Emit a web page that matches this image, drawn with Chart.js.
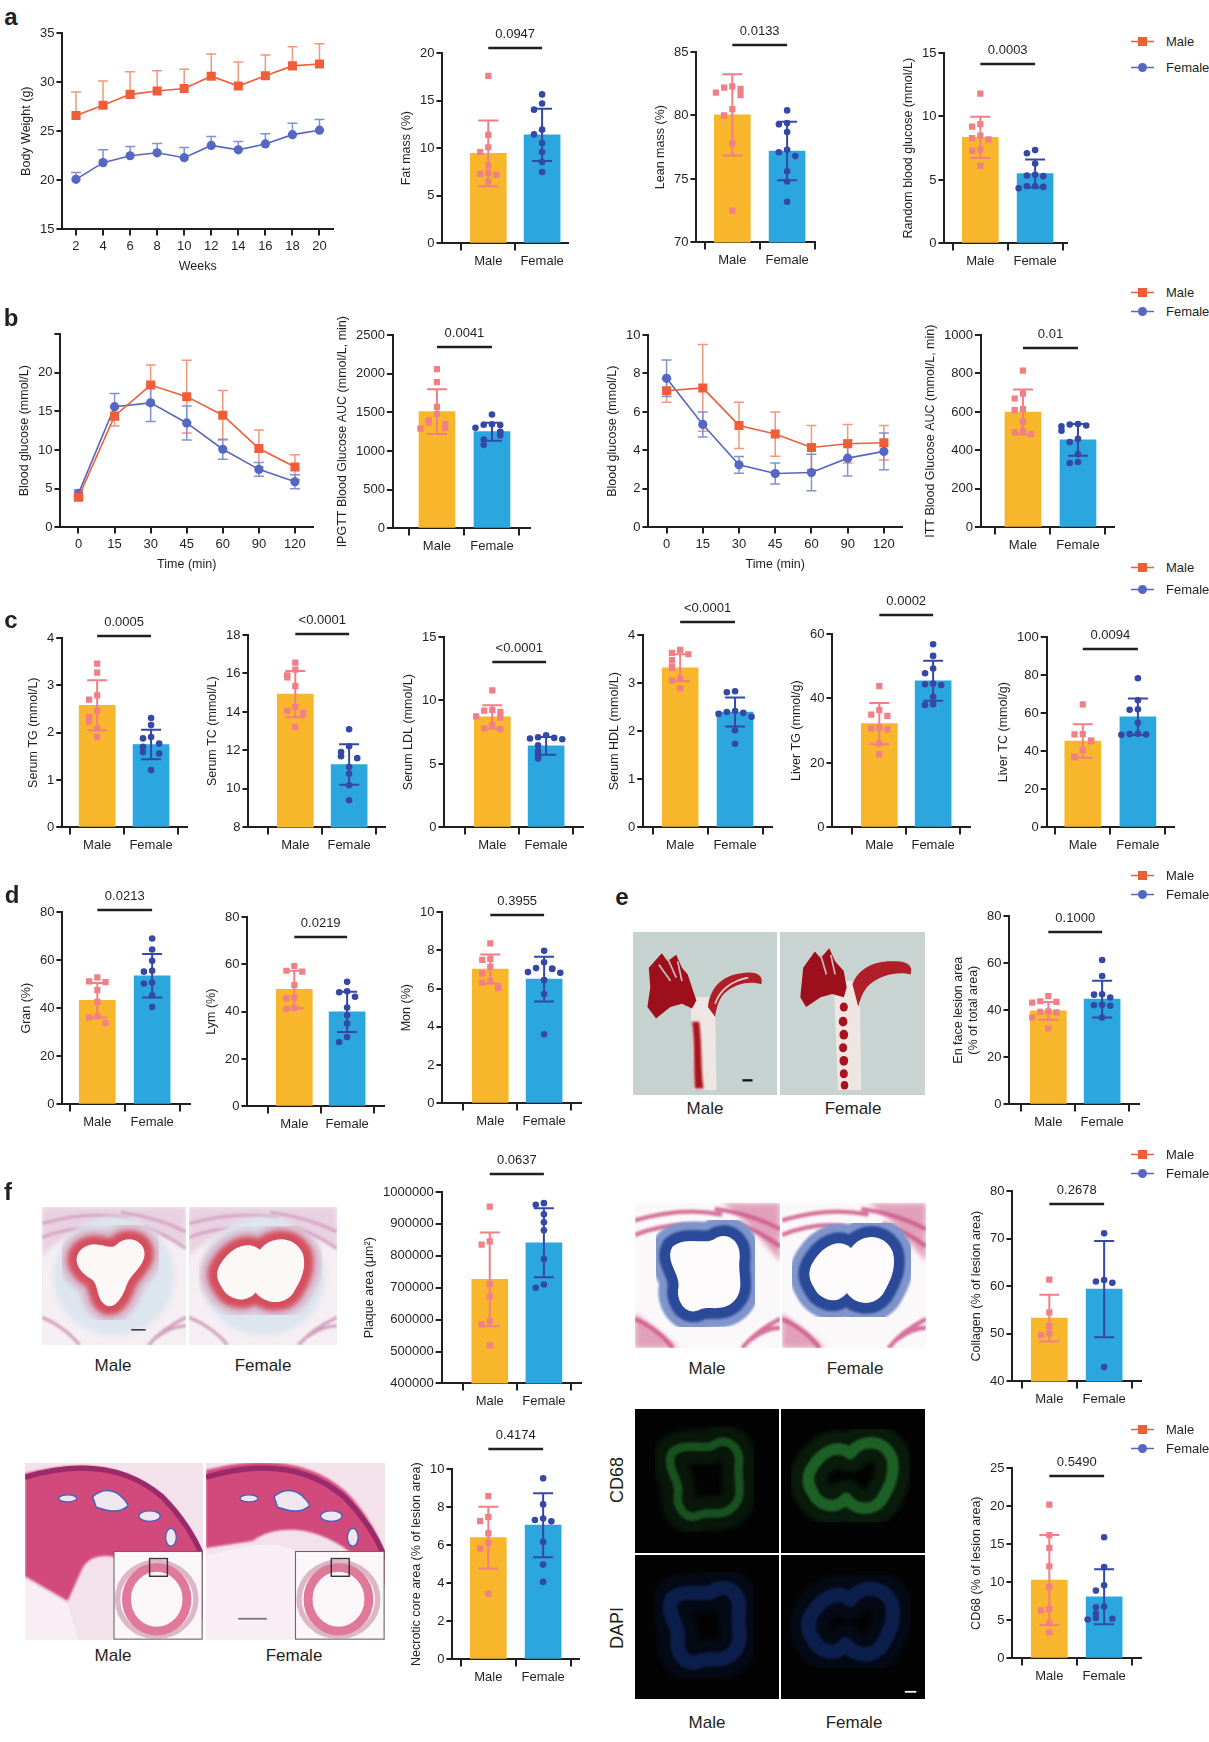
<!DOCTYPE html>
<html>
<head>
<meta charset="utf-8">
<script src="https://cdn.jsdelivr.net/npm/chart.js@4.4.1/dist/chart.umd.min.js"></script>
<style>
  body { margin: 0; background: #fff; width: 1209px; height: 1742px; position: relative; overflow: hidden;
         font-family: "Liberation Sans", Arial, sans-serif; color: #231f20; }
  .box { position: absolute; }
  .lbl { position: absolute; transform: translate(-50%, -50%); white-space: nowrap; font-size: 17px; }
  .letter { position: absolute; transform: translate(-50%, -50%); font-weight: bold; font-size: 24px; }
  .rot { position: absolute; transform: translate(-50%, -50%) rotate(-90deg); font-size: 18px; }
  .leg { position: absolute; left: 1131px; height: 14px; font-size: 13px; display: flex; align-items: center; transform: translateY(-50%); }
  .leg svg { margin-right: 12px; }
</style>
</head>
<body>
<svg width="0" height="0" style="position:absolute">
  <defs>
    <filter id="b1" x="-20%" y="-20%" width="140%" height="140%"><feGaussianBlur stdDeviation="0.7"/></filter>
    <filter id="b2" x="-20%" y="-20%" width="140%" height="140%"><feGaussianBlur stdDeviation="1.8"/></filter>
    <filter id="b3" x="-30%" y="-30%" width="160%" height="160%"><feGaussianBlur stdDeviation="3.5"/></filter>
  </defs>
</svg>
<script>
// ---------- data ----------
const sexes = ['Male', 'Female'];

const weeks = [2, 4, 6, 8, 10, 12, 14, 16, 18, 20];
const bwMale = [26.6, 27.65, 28.75, 29.1, 29.35, 30.6, 29.6, 30.65, 31.65, 31.85];
const bwMaleSd = [2.4, 2.45, 2.3, 2.05, 1.95, 2.25, 2.45, 2.1, 1.95, 2.05];
const bwFemale = [20.1, 21.8, 22.5, 22.8, 22.3, 23.55, 23.1, 23.7, 24.65, 25.1];
const bwFemaleSd = [0.7, 1.3, 0.95, 0.95, 1.05, 0.9, 0.85, 1.05, 1.15, 1.1];

const fatMean = [9.45, 11.4], fatSd = [3.45, 2.75];
const fatMale = [17.6, 11.4, 10.1, 9.6, 8.2, 7.4, 7.3, 7.2, 6.5];
const fatFemale = [15.65, 14.7, 14.05, 11.95, 11.45, 10.55, 9.6, 8.55, 7.5];
const leanMean = [80.05, 77.2], leanSd = [3.2, 2.3];
const leanMale = [82.3, 82.2, 82.1, 81.8, 81.6, 80.5, 80.0, 77.8, 72.5];
const leanFemale = [80.4, 79.4, 79.3, 78.7, 77.3, 77.1, 76.8, 75.6, 74.8, 73.2];
const rbgMean = [8.35, 5.5], rbgSd = [1.62, 1.1];
const rbgMale = [11.8, 9.4, 9.2, 8.5, 8.3, 8.2, 7.4, 7.3, 6.1];
const rbgFemale = [7.35, 7.1, 6.3, 5.4, 5.35, 5.3, 4.5, 4.5, 4.45, 4.35];

const times = [0, 15, 30, 45, 60, 90, 120];
const gttMale = [3.9, 14.4, 18.4, 16.9, 14.5, 10.2, 7.8];
const gttMaleSd = [0.3, 1.3, 2.6, 4.7, 3.2, 2.4, 1.6];
const gttFemale = [4.4, 15.6, 16.1, 13.5, 10.1, 7.5, 5.9];
const gttFemaleSd = [0.45, 1.7, 2.4, 2.2, 1.3, 0.9, 0.9];
const ipgttMean = [1510, 1250], ipgttSd = [290, 116];
const ipgttMale = [2060, 1890, 1570, 1480, 1400, 1370, 1350, 1300, 1290];
const ipgttFemale = [1473, 1345, 1340, 1335, 1300, 1250, 1245, 1200, 1150, 1080];

const ittMale = [7.1, 7.25, 5.3, 4.85, 4.15, 4.35, 4.4];
const ittMaleSd = [0.6, 2.25, 1.2, 1.15, 1.15, 1.0, 0.9];
const ittFemale = [7.75, 5.35, 3.25, 2.8, 2.85, 3.6, 3.95];
const ittFemaleSd = [0.95, 0.65, 0.43, 0.55, 0.95, 0.93, 0.95];
const ittAucMean = [600, 455], ittAucSd = [117, 83];
const ittAucMale = [815, 695, 670, 615, 610, 550, 500, 495, 485];
const ittAucFemale = [537, 535, 530, 525, 502, 460, 444, 380, 340, 335];

const tgMean = [2.58, 1.75], tgSd = [0.53, 0.31];
const tgMale = [3.46, 3.27, 2.79, 2.70, 2.46, 2.33, 2.24, 2.09, 1.91];
const tgFemale = [2.31, 2.16, 1.91, 1.88, 1.77, 1.70, 1.59, 1.56, 1.21];
const tcMean = [14.93, 11.27], tcSd = [1.2, 1.05];
const tcMale = [16.56, 16.2, 15.9, 15.8, 15.34, 14.27, 14.05, 13.95, 13.22];
const tcFemale = [13.1, 12.22, 11.92, 11.7, 11.6, 11.14, 10.79, 10.19, 9.41];
const ldlMean = [8.71, 6.42], ldlSd = [0.92, 0.7];
const ldlMale = [10.8, 9.25, 9.2, 9.1, 8.75, 8.65, 8.05, 7.8, 7.75];
const ldlFemale = [7.26, 7.1, 7.05, 7.0, 6.95, 6.47, 6.02, 5.68, 5.42];
const hdlMean = [3.32, 2.4], hdlSd = [0.28, 0.3];
const hdlMale = [3.69, 3.63, 3.6, 3.48, 3.35, 3.31, 3.1, 3.05, 2.89];
const hdlFemale = [2.83, 2.81, 2.42, 2.4, 2.38, 2.36, 2.3, 2.02, 1.74];
const ltgMean = [32.2, 45.5], ltgSd = [6.4, 6.2];
const ltgMale = [43.8, 36.4, 35.0, 34.6, 31.0, 30.7, 30.4, 26.0, 22.7];
const ltgFemale = [56.8, 53.2, 49.3, 47.8, 44.6, 44.4, 44.2, 40.5, 38.2, 38.0];
const ltcMean = [45.4, 58.1], ltcSd = [8.8, 9.6];
const ltcMale = [64.6, 49, 48.8, 45.6, 45.4, 45.2, 40.5, 37.2, 36.8];
const ltcFemale = [78.3, 66.8, 62, 61.8, 54.9, 49.2, 49, 48.8, 48.6];

const granMean = [43.3, 53.5], granSd = [7.2, 9];
const granMale = [52.8, 51.2, 50.8, 47.5, 42.6, 36.6, 36.2, 33.9];
const granFemale = [69, 64.4, 59.7, 55.6, 55.2, 50.7, 50.3, 45.4, 40.5];
const lymMean = [49.4, 39.9], lymSd = [7.9, 8.5];
const lymMale = [59.3, 57.3, 56.9, 51.2, 46, 45.6, 41.6, 41.2];
const lymFemale = [52.6, 48.6, 48.2, 46.3, 41.8, 38.5, 35, 29.3, 27.2];
const monMean = [7.02, 6.49], monSd = [0.76, 1.17];
const monMale = [8.36, 7.55, 7.5, 7.14, 6.79, 6.4, 6.3, 6.06, 6.02];
const monFemale = [7.97, 7.37, 7.07, 7.05, 7.02, 6.86, 6.82, 6.44, 5.71, 3.61];
const enMean = [39.7, 44.7], enSd = [3.8, 7.8];
const enMale = [46, 43.8, 43.5, 43.2, 39.5, 39.3, 39.1, 36.9, 32.2];
const enFemale = [61.3, 54.5, 46.8, 46.6, 45.4, 42.3, 42.1, 41.9, 36.9];

const plaqueMean = [726000, 841000], plaqueSd = [147000, 108000];
const plaqueMale = [954000, 845000, 835000, 711000, 673000, 596000, 585000, 519000];
const plaqueFemale = [965000, 960000, 930000, 905000, 880000, 790000, 710000, 700000];
const colMean = [53.3, 59.4], colSd = [4.9, 10.1];
const colMale = [61.4, 54.5, 51.6, 50.1, 49.7];
const colFemale = [71.1, 61.3, 61.0, 60.7, 43.0];
const necMean = [6.4, 7.05], necSd = [1.62, 1.68];
const necMale = [8.58, 7.49, 7.26, 6.62, 6.12, 5.82, 3.46];
const necFemale = [9.51, 8.14, 7.4, 7.32, 7.25, 6.17, 4.98, 4.07];
const cd68Mean = [10.3, 8.1], cd68Sd = [5.9, 3.6];
const cd68Male = [20.2, 16.2, 14.5, 12.1, 9.4, 6.5, 6.3, 4.6, 3.4];
const cd68Female = [15.9, 12.0, 9.6, 8.9, 6.8, 6.7, 5.9, 5.3, 5.2, 5.1];

// ---------- look ----------
const C = {
  maleBar: '#F8B62D', femaleBar: '#2BA6DE',
  maleDot: '#F07F86', femaleDot: '#3548A6',
  maleLine: '#EF5E39', femaleLine: '#5567C3',
  maleLineErr: '#F4977A', femaleLineErr: '#8391D6',
  ink: '#231f20'
};
Chart.defaults.font.family = '"Liberation Sans", Arial, sans-serif';
Chart.defaults.color = C.ink;

// page positions of each plot (axis x, top/bottom of y axis, bar centres, axis end, p-line y)
const LAY = {
  bw:     {ax: 62,  top: 33,   bot: 229,  end: 333},
  gtt:    {ax: 60,  top: 334,  bot: 527,  end: 313},
  itt:    {ax: 648, top: 335,  bot: 527,  end: 902},
  fat:    {ax: 442, top: 53,   bot: 243,  m: 488,  f: 542,  end: 568,  pY: 48},
  lean:   {ax: 696, top: 52,   bot: 242,  m: 732,  f: 787,  end: 815,  pY: 45},
  rbg:    {ax: 944, top: 53,   bot: 243,  m: 980,  f: 1035, end: 1067, pY: 64},
  ipgtt:  {ax: 393, top: 335,  bot: 528,  m: 437,  f: 492,  end: 530,  pY: 347},
  ittAuc: {ax: 981, top: 335,  bot: 527,  m: 1023, f: 1078, end: 1114, pY: 348},
  tg:     {ax: 62,  top: 638,  bot: 827,  m: 97,   f: 151,  end: 187,  pY: 636},
  tc:     {ax: 248, top: 635,  bot: 827,  m: 295,  f: 349,  end: 385,  pY: 634},
  ldl:    {ax: 444, top: 637,  bot: 827,  m: 492,  f: 546,  end: 583,  pY: 662},
  hdl:    {ax: 643, top: 635,  bot: 827,  m: 680,  f: 735,  end: 772,  pY: 622},
  ltg:    {ax: 832, top: 634,  bot: 827,  m: 879,  f: 933,  end: 970,  pY: 615},
  ltc:    {ax: 1047, top: 637, bot: 827,  m: 1083, f: 1138, end: 1174, pY: 649},
  gran:   {ax: 62,  top: 912,  bot: 1104, m: 97,   f: 152,  end: 190,  pY: 910},
  lym:    {ax: 247, top: 917,  bot: 1106, m: 294,  f: 347,  end: 384,  pY: 937},
  mon:    {ax: 442, top: 912,  bot: 1103, m: 490,  f: 544,  end: 581,  pY: 915},
  en:     {ax: 1009, top: 916, bot: 1104, m: 1048, f: 1102, end: 1139, pY: 932},
  plaque: {ax: 442, top: 1192, bot: 1383, m: 490,  f: 544,  end: 581,  pY: 1174},
  col:    {ax: 1012, top: 1191, bot: 1381, m: 1049, f: 1104, end: 1141, pY: 1204},
  nec:    {ax: 452, top: 1469, bot: 1659, m: 488,  f: 543,  end: 579,  pY: 1449},
  cd68:   {ax: 1012, top: 1468, bot: 1658, m: 1049, f: 1104, end: 1141, pY: 1476}
};

// ---------- plugins ----------
const barExtras = {
  id: 'barExtras',
  afterDatasetDraw(chart, args, o) {
    if (chart.data.datasets[args.index].type !== 'bar') return;
    const {ctx, scales: {x, y}} = chart;
    ctx.save();
    ctx.lineWidth = 2;
    for (let i = 0; i < 2; i++) {
      const px = x.getPixelForValue(i);
      const hi = y.getPixelForValue(o.mean[i] + o.sd[i]);
      const lo = y.getPixelForValue(Math.max(o.mean[i] - o.sd[i], y.min));
      ctx.strokeStyle = i ? C.femaleDot : C.maleDot;
      ctx.beginPath();
      ctx.moveTo(px, lo); ctx.lineTo(px, hi);
      ctx.moveTo(px - 10, hi); ctx.lineTo(px + 10, hi);
      ctx.moveTo(px - 10, lo); ctx.lineTo(px + 10, lo);
      ctx.stroke();
    }
    ctx.restore();
  },
  afterDraw(chart, args, o) {
    const {ctx, chartArea, scales: {x}} = chart;
    const yy = chartArea.top + o.pOff;
    const x0 = x.getPixelForValue(0), x1 = x.getPixelForValue(1);
    ctx.save();
    ctx.strokeStyle = C.ink;
    ctx.lineWidth = 2.5;
    ctx.beginPath(); ctx.moveTo(x0, yy); ctx.lineTo(x1, yy); ctx.stroke();
    ctx.fillStyle = C.ink;
    ctx.font = '13px "Liberation Sans", Arial, sans-serif';
    ctx.textAlign = 'center';
    ctx.textBaseline = 'middle';
    ctx.fillText(o.p, (x0 + x1) / 2, yy - 14);
    ctx.restore();
  }
};

const lineErr = {
  id: 'lineErr',
  beforeDatasetsDraw(chart, args, o) {
    const {ctx, scales: {y}} = chart;
    ctx.save();
    ctx.lineWidth = 1.5;
    chart.data.datasets.forEach((ds, i) => {
      const meta = chart.getDatasetMeta(i);
      ctx.strokeStyle = i ? C.femaleLineErr : C.maleLineErr;
      meta.data.forEach((pt, j) => {
        const v = ds.data[j], s = o.sd[i][j];
        const hi = y.getPixelForValue(v + s);
        const lo = o.both ? y.getPixelForValue(v - s) : pt.y;
        ctx.beginPath();
        ctx.moveTo(pt.x, lo); ctx.lineTo(pt.x, hi);
        ctx.moveTo(pt.x - 5, hi); ctx.lineTo(pt.x + 5, hi);
        if (o.both) { ctx.moveTo(pt.x - 5, lo); ctx.lineTo(pt.x + 5, lo); }
        ctx.stroke();
      });
    });
    ctx.restore();
  }
};

// spread points sideways where values crowd together
function swarm(vals, range) {
  const order = vals.map((v, i) => i).sort((a, b) => vals[b] - vals[a]);
  const off = vals.map(() => 0);
  const done = [];
  const pat = [0, -1, 1, -2, 2, -3, 3];
  order.forEach(i => {
    const k = done.filter(j => Math.abs(vals[j] - vals[i]) < range * 0.035).length;
    off[i] = pat[k % pat.length] * 0.15;
    done.push(i);
  });
  return off;
}

function axisCommon(tickLen) {
  return {
    z: 1,
    grid: { display: true, drawOnChartArea: false, drawTicks: true, tickLength: tickLen, color: C.ink, lineWidth: 2 },
    border: { display: true, color: C.ink, width: 2 }
  };
}

// build a chart, then shift/resize so its plot area lands on the page position
function place(L, padTop, cfgFn) {
  const wrap = document.createElement('div');
  wrap.className = 'box';
  document.body.appendChild(wrap);
  const make = (w, h) => {
    wrap.innerHTML = '';
    const cv = document.createElement('canvas');
    cv.width = w; cv.height = h;
    cv.style.width = w + 'px'; cv.style.height = h + 'px';
    wrap.appendChild(cv);
    return new Chart(cv, cfgFn(padTop));
  };
  const h0 = padTop + (L.bot - L.top) + 45;
  let ch = make(320, h0);
  const ca = ch.chartArea;
  const w = Math.round(ca.left + (L.end - L.ax) + 8);
  const h = Math.round(h0 + (L.bot - L.top) - (ca.bottom - ca.top));
  ch.destroy();
  ch = make(w, h);
  wrap.style.left = (L.ax - ch.chartArea.left) + 'px';
  wrap.style.top = (L.top - ch.chartArea.top) + 'px';
}

function barPanel(L, D) {
  const sp = L.f - L.m;
  const xmin = -(L.m - L.ax) / sp, xmax = 1 + (L.end - L.f) / sp;
  const rng = D.max - D.min;
  place(L, 46, padTop => {
    const groups = [D.male, D.female].map((arr, g) => {
      const off = swarm(arr, rng);
      return arr.map((v, i) => ({x: g + off[i], y: v}));
    });
    return {
      type: 'bar',
      data: {
        datasets: [
          { type: 'scatter', data: groups[0], order: 1, pointStyle: 'rect', pointRadius: 4.4,
            backgroundColor: C.maleDot, borderWidth: 0 },
          { type: 'scatter', data: groups[1], order: 1, pointStyle: 'circle', pointRadius: 3.3,
            backgroundColor: C.femaleDot, borderWidth: 0 },
          { type: 'bar', data: [{x: 0, y: D.mean[0]}, {x: 1, y: D.mean[1]}], order: 2,
            backgroundColor: [C.maleBar, C.femaleBar], barThickness: 36 }
        ]
      },
      options: {
        responsive: false, maintainAspectRatio: false, animation: false, events: [],
        layout: { padding: { top: padTop, right: 8, left: 0, bottom: 0 } },
        plugins: {
          legend: { display: false }, tooltip: { enabled: false },
          barExtras: { mean: D.mean, sd: D.sd, p: D.p, pOff: L.pY - L.top }
        },
        scales: {
          x: Object.assign(axisCommon(7), {
            type: 'linear', min: xmin, max: xmax, offset: false,
            afterBuildTicks: s => { s.ticks = [{value: 0}, {value: 1}]; },
            ticks: { callback: v => sexes[v], autoSkip: false, maxRotation: 0, font: {size: 13}, padding: 3 }
          }),
          y: Object.assign(axisCommon(6), {
            type: 'linear', min: D.min, max: D.max,
            ticks: { stepSize: D.step, callback: v => String(v), font: {size: 13}, padding: 2 },
            title: { display: true, text: D.title, font: {size: 12.5}, padding: {top: 0, bottom: 4} }
          })
        }
      },
      plugins: [barExtras]
    };
  });
}

function linePanel(L, D) {
  place(L, 14, padTop => ({
    type: 'line',
    data: {
      labels: D.labels,
      datasets: [
        { data: D.male, borderColor: C.maleLine, backgroundColor: C.maleLine, borderWidth: 1.6,
          pointStyle: 'rect', pointRadius: 6.4, pointBorderWidth: 0, tension: 0 },
        { data: D.female, borderColor: C.femaleLine, backgroundColor: C.femaleLine, borderWidth: 1.6,
          pointStyle: 'circle', pointRadius: 4.6, pointBorderWidth: 0, tension: 0 }
      ]
    },
    options: {
      responsive: false, maintainAspectRatio: false, animation: false, events: [],
      layout: { padding: { top: padTop, right: 8, left: 0, bottom: 0 } },
      plugins: {
        legend: { display: false }, tooltip: { enabled: false },
        lineErr: { sd: [D.maleSd, D.femaleSd], both: D.both }
      },
      scales: {
        x: Object.assign(axisCommon(6), {
          type: 'category', offset: true,
          ticks: { font: {size: 13}, padding: 3, autoSkip: false, maxRotation: 0 },
          title: { display: true, text: D.xTitle, font: {size: 12.5}, padding: {top: 2, bottom: 0} }
        }),
        y: Object.assign(axisCommon(6), {
          type: 'linear', min: D.min, max: D.max,
          ticks: { stepSize: D.step, font: {size: 13}, padding: 2,
                   callback: v => (D.hideTop && v === D.max) ? '' : String(v) },
          title: { display: true, text: D.title, font: {size: 12.5}, padding: {top: 0, bottom: 4} }
        })
      }
    },
    plugins: [lineErr]
  }));
}
// tick marks sit on the category labels, not between them
Chart.defaults.scales.category.grid = Object.assign({}, Chart.defaults.scales.category.grid, { offset: false });

// ---------- charts ----------
linePanel(LAY.bw, { labels: weeks, male: bwMale, female: bwFemale, maleSd: bwMaleSd, femaleSd: bwFemaleSd,
  both: false, min: 15, max: 35, step: 5, title: 'Body Weight (g)', xTitle: 'Weeks' });
barPanel(LAY.fat, { min: 0, max: 20, step: 5, title: 'Fat mass (%)', mean: fatMean, sd: fatSd,
  male: fatMale, female: fatFemale, p: '0.0947' });
barPanel(LAY.lean, { min: 70, max: 85, step: 5, title: 'Lean mass (%)', mean: leanMean, sd: leanSd,
  male: leanMale, female: leanFemale, p: '0.0133' });
barPanel(LAY.rbg, { min: 0, max: 15, step: 5, title: 'Random blood glucose (mmol/L)', mean: rbgMean, sd: rbgSd,
  male: rbgMale, female: rbgFemale, p: '0.0003' });

linePanel(LAY.gtt, { labels: times, male: gttMale, female: gttFemale, maleSd: gttMaleSd, femaleSd: gttFemaleSd,
  both: true, min: 0, max: 25, step: 5, hideTop: true, title: 'Blood glucose (mmol/L)', xTitle: 'Time (min)' });
barPanel(LAY.ipgtt, { min: 0, max: 2500, step: 500, title: 'IPGTT Blood Glucose AUC (mmol/L, min)',
  mean: ipgttMean, sd: ipgttSd, male: ipgttMale, female: ipgttFemale, p: '0.0041' });
linePanel(LAY.itt, { labels: times, male: ittMale, female: ittFemale, maleSd: ittMaleSd, femaleSd: ittFemaleSd,
  both: true, min: 0, max: 10, step: 2, title: 'Blood glucose (mmol/L)', xTitle: 'Time (min)' });
barPanel(LAY.ittAuc, { min: 0, max: 1000, step: 200, title: 'ITT Blood Glucose AUC (mmol/L, min)',
  mean: ittAucMean, sd: ittAucSd, male: ittAucMale, female: ittAucFemale, p: '0.01' });

barPanel(LAY.tg, { min: 0, max: 4, step: 1, title: 'Serum TG (mmol/L)', mean: tgMean, sd: tgSd,
  male: tgMale, female: tgFemale, p: '0.0005' });
barPanel(LAY.tc, { min: 8, max: 18, step: 2, title: 'Serum TC (mmol/L)', mean: tcMean, sd: tcSd,
  male: tcMale, female: tcFemale, p: '<0.0001' });
barPanel(LAY.ldl, { min: 0, max: 15, step: 5, title: 'Serum LDL (mmol/L)', mean: ldlMean, sd: ldlSd,
  male: ldlMale, female: ldlFemale, p: '<0.0001' });
barPanel(LAY.hdl, { min: 0, max: 4, step: 1, title: 'Serum HDL (mmol/L)', mean: hdlMean, sd: hdlSd,
  male: hdlMale, female: hdlFemale, p: '<0.0001' });
barPanel(LAY.ltg, { min: 0, max: 60, step: 20, title: 'Liver TG (mmol/g)', mean: ltgMean, sd: ltgSd,
  male: ltgMale, female: ltgFemale, p: '0.0002' });
barPanel(LAY.ltc, { min: 0, max: 100, step: 20, title: 'Liver TC (mmol/g)', mean: ltcMean, sd: ltcSd,
  male: ltcMale, female: ltcFemale, p: '0.0094' });

barPanel(LAY.gran, { min: 0, max: 80, step: 20, title: 'Gran (%)', mean: granMean, sd: granSd,
  male: granMale, female: granFemale, p: '0.0213' });
barPanel(LAY.lym, { min: 0, max: 80, step: 20, title: 'Lym (%)', mean: lymMean, sd: lymSd,
  male: lymMale, female: lymFemale, p: '0.0219' });
barPanel(LAY.mon, { min: 0, max: 10, step: 2, title: 'Mon (%)', mean: monMean, sd: monSd,
  male: monMale, female: monFemale, p: '0.3955' });
barPanel(LAY.en, { min: 0, max: 80, step: 20, title: ['En face lesion area', '(% of total area)'], mean: enMean, sd: enSd,
  male: enMale, female: enFemale, p: '0.1000' });

barPanel(LAY.plaque, { min: 400000, max: 1000000, step: 100000, title: 'Plaque area (\u03bcm\u00b2)',
  mean: plaqueMean, sd: plaqueSd, male: plaqueMale, female: plaqueFemale, p: '0.0637' });
barPanel(LAY.col, { min: 40, max: 80, step: 10, title: 'Collagen (% of lesion area)', mean: colMean, sd: colSd,
  male: colMale, female: colFemale, p: '0.2678' });
barPanel(LAY.nec, { min: 0, max: 10, step: 2, title: 'Necrotic core area (% of lesion area)', mean: necMean, sd: necSd,
  male: necMale, female: necFemale, p: '0.4174' });
barPanel(LAY.cd68, { min: 0, max: 25, step: 5, title: 'CD68 (% of lesion area)', mean: cd68Mean, sd: cd68Sd,
  male: cd68Male, female: cd68Female, p: '0.5490' });

// ---------- text, legends ----------
function addDiv(cls, x, y, text) {
  const d = document.createElement('div');
  d.className = cls;
  d.style.left = x + 'px'; d.style.top = y + 'px';
  d.textContent = text;
  document.body.appendChild(d);
}
[['a', 11, 17], ['b', 11, 318], ['c', 11, 620], ['d', 12, 895], ['e', 622, 897], ['f', 8, 1192]]
  .forEach(([t, x, y]) => addDiv('letter', x, y, t));

const legendRows = [[41, 67], [292, 311], [567, 589], [875, 894], [1154, 1173], [1429, 1448]];
legendRows.forEach(([ym, yf]) => {
  [[ym, 'Male', C.maleLine, 'rect'], [yf, 'Female', C.femaleLine, 'circle']].forEach(([y, t, col, shp]) => {
    const d = document.createElement('div');
    d.className = 'leg';
    d.style.top = y + 'px';
    const mk = shp === 'rect'
      ? `<rect x="7" y="2" width="9" height="9" fill="${col}"/>`
      : `<circle cx="11.5" cy="6.5" r="4.5" fill="${col}"/>`;
    d.innerHTML = `<svg width="23" height="13"><line x1="0" y1="6.5" x2="23" y2="6.5" stroke="${col}" stroke-width="1.5"/>${mk}</svg><span>${t}</span>`;
    document.body.appendChild(d);
  });
});

// ---------- micrographs (illustrative) ----------
function photo(x, y, w, h, inner) {
  const d = document.createElement('div');
  d.className = 'box';
  d.style.cssText = `left:${x}px;top:${y}px;width:${w}px;height:${h}px;overflow:hidden`;
  d.innerHTML = `<svg width="${w}" height="${h}" viewBox="0 0 100 100" preserveAspectRatio="none">${inner}</svg>`;
  document.body.appendChild(d);
}
const lumenA = 'M28 30 C38 22 47 33 52 27 C60 19 73 25 71 36 C69 45 62 48 59 56 C56 66 50 75 44 71 C37 66 40 56 34 52 C25 47 20 37 28 30 Z';
const lumenB = 'M22 40 C29 29 40 24 48 31 C56 20 72 21 77 34 C80 46 74 56 70 63 C63 72 51 70 45 62 C38 71 26 67 22 58 C18 52 18 46 22 40 Z';
const lumenC = 'M26 30 C36 22 50 30 56 24 C64 20 74 26 72 40 C71 50 76 60 68 68 C60 76 50 70 44 74 C34 78 28 66 30 58 C31 48 20 40 26 30 Z';
const streaks = 'M0 12 C20 6 40 4 60 8 M0 22 C15 16 30 14 45 16 M55 4 C70 6 85 10 100 18 M70 14 C82 18 92 24 100 30 M0 80 C10 84 20 92 26 100 M74 100 C82 90 92 84 100 80 M80 94 C88 88 94 86 100 86';

// e: en face aortas
photo(633, 932, 144, 163, `<rect width="100" height="100" fill="#c6d2d0"/>
  <path d="M40 40 L57 40 L58 97 L42 97 Z" fill="#eee6e2"/>
  <path d="M41 55 C43 68 42 82 43 96 L49 96 C47 84 48 70 46 55 Z" fill="#a8121e" filter="url(#b1)"/>
  <path d="M11 22 L20 13 L24 18 L30 14 L34 22 L38 26 L44 42 L41 47 L34 44 L26 46 L16 53 L10 46 L12 34 Z" fill="#9c0f1b"/>
  <path d="M18 20 L26 30 M24 16 L30 28 M31 18 L34 30" stroke="#c9b8b5" stroke-width="1.2"/>
  <path d="M52 46 C54 32 64 26 78 25 C86 24 91 27 89 32 C82 30 71 31 63 38 C59 42 58 47 57 52 Z" fill="#b01e28"/>
  <path d="M57 44 C60 36 68 30 80 28" stroke="#e4d2d0" stroke-width="1.2" fill="none"/>
  <line x1="76" y1="91" x2="83" y2="91" stroke="#111" stroke-width="1.4"/>`);
photo(780, 932, 145, 163, `<rect width="100" height="100" fill="#c8d3d2"/>
  <path d="M37 30 L55 30 L56 97 L40 97 Z" fill="#eee6e2"/>
  <circle cx="44" cy="46" r="2.8" fill="#a8121e"/><circle cx="43.5" cy="55" r="3" fill="#a8121e"/>
  <circle cx="44" cy="63" r="3" fill="#a8121e"/><circle cx="43.5" cy="71" r="2.8" fill="#a8121e"/>
  <circle cx="44" cy="79" r="3" fill="#a8121e"/><circle cx="44" cy="87" r="2.8" fill="#a8121e"/>
  <circle cx="44.5" cy="94" r="2.6" fill="#a8121e"/>
  <path d="M16 22 L24 12 L28 16 L34 10 L38 18 L44 24 L46 34 L44 40 L36 38 L28 40 L18 46 L14 40 Z" fill="#9c0f1b"/>
  <path d="M28 14 L32 26 M35 14 L38 26" stroke="#c9b8b5" stroke-width="1.2"/>
  <path d="M50 32 C54 22 66 17 80 18 C88 18 92 21 90 26 C82 24 70 26 62 32 C57 36 55 42 54 46 Z" fill="#b01e28"/>`);

// f: oil red O sections
function oro(lumen) {
  return `<rect width="100" height="100" fill="#f5eef3"/>
  <path d="${streaks}" stroke="#c98bb0" stroke-width="2.2" fill="none" opacity=".8" filter="url(#b1)"/>
  <path d="M0 0 H100 V30 C80 18 65 12 50 14 C30 12 12 22 0 36 Z" fill="#d9aecb" opacity=".45" filter="url(#b2)"/>
  <ellipse cx="50" cy="50" rx="42" ry="43" fill="#dde5ef" filter="url(#b2)"/>
  <path d="${lumen}" fill="none" stroke="#d6a6c0" stroke-width="24" stroke-linejoin="round" opacity=".6" filter="url(#b2)"/>
  <path d="${lumen}" fill="none" stroke="#d43b48" stroke-width="13" stroke-linejoin="round" opacity=".85" filter="url(#b2)"/>
  <path d="${lumen}" fill="#fcf8f7"/>`;
}
photo(42, 1207, 144, 138, oro(lumenA) + '<line x1="62" y1="89" x2="72" y2="89" stroke="#222" stroke-width="1"/>');
photo(189, 1207, 148, 138, oro(lumenB));

// f: Masson trichrome
function masson(lumen) {
  return `<rect width="100" height="100" fill="#fbf8fa"/>
  <path d="${streaks}" stroke="#c9457a" stroke-width="3" fill="none" opacity=".75" filter="url(#b1)"/>
  <path d="M60 0 H100 V40 C90 30 80 14 60 0 Z" fill="#cc5a86" opacity=".55" filter="url(#b2)"/>
  <path d="M0 76 C14 86 24 94 30 100 H0 Z" fill="#cc5a86" opacity=".55" filter="url(#b2)"/>
  <path d="${lumen}" fill="none" stroke="#7e94cb" stroke-width="27" stroke-linejoin="round" filter="url(#b1)"/>
  <path d="${lumen}" fill="none" stroke="#2a4a98" stroke-width="15" stroke-linejoin="round" filter="url(#b1)"/>
  <path d="${lumen}" fill="#fdfbfc"/>`;
}
photo(635, 1203, 145, 145, masson(lumenC));
photo(782, 1203, 144, 145, masson(lumenB));

// f: H&E
function he(band, white) {
  return `<rect width="100" height="100" fill="#f4e2ea"/>
  <path d="${band}" fill="#d24a7c" filter="url(#b1)"/>
  <path d="M0 8 C30 -1 56 1 77 19 C89 31 97 45 100 54" stroke="#9b2a6a" stroke-width="3" fill="none"/>
  <path d="M38 19 C45 13 53 15 58 24 C53 29 46 27 40 25 Z" fill="#efe6f0" stroke="#3d62b9" stroke-width=".8"/>
  <ellipse cx="24" cy="20" rx="5" ry="2" fill="#efe6f0" stroke="#3d62b9" stroke-width=".7"/>
  <ellipse cx="70" cy="30" rx="6" ry="3" fill="#efe6f0" stroke="#3d62b9" stroke-width=".7"/>
  <ellipse cx="82" cy="42" rx="3" ry="5" fill="#efe6f0" stroke="#3d62b9" stroke-width=".7"/>
  <path d="${white}" fill="#f8eef3"/>
  <rect x="50" y="50" width="49.5" height="49.5" fill="#fbf7f9" stroke="#666" stroke-width=".6"/>
  <ellipse cx="74" cy="77" rx="17" ry="18" fill="none" stroke="#d9577f" stroke-width="5" opacity=".8"/>
  <ellipse cx="74" cy="77" rx="22" ry="21" fill="none" stroke="#c98aa8" stroke-width="3" opacity=".6"/>
  <rect x="70" y="54" width="10" height="10" fill="none" stroke="#333" stroke-width=".8"/>`;
}
photo(25, 1463, 178, 177, he('M0 6 C30 -2 56 0 76 18 C89 30 97 45 100 55 V90 L70 62 C55 52 38 48 32 60 L24 78 L0 64 Z',
  'M0 66 L24 80 L30 100 H0 Z'));
photo(206, 1463, 179, 177, he('M0 4 C30 -4 58 -2 78 16 C90 28 98 44 100 52 V70 L80 50 C62 36 40 34 26 44 L0 48 Z',
  'M0 52 C20 48 36 42 50 50 V100 H0 Z') + '<line x1="18" y1="88" x2="34" y2="88" stroke="#777" stroke-width="1"/>');

// f: immunofluorescence
function fluo(lumen, col, sw, op) {
  return `<rect width="100" height="100" fill="#020302"/>
  <path d="${lumen}" fill="none" stroke="${col}" stroke-width="${sw + 18}" stroke-linejoin="round" opacity="${op * 0.3}" filter="url(#b2)"/>
  <path d="${lumen}" fill="none" stroke="${col}" stroke-width="${sw}" stroke-linejoin="round" opacity="${op}" filter="url(#b1)"/>`;
}
photo(635, 1409, 144, 144, fluo(lumenC, '#2a8a36', 6, 0.5));
photo(781, 1409, 144, 144, fluo(lumenB, '#2f9a3e', 8, 0.55));
photo(635, 1555, 144, 144, fluo(lumenC, '#17378f', 10, 0.45));
photo(781, 1555, 144, 144, fluo(lumenB, '#17378f', 10, 0.45) + '<line x1="86" y1="95" x2="94" y2="95" stroke="#fff" stroke-width="1.2"/>');

[[705, 1109, 'Male'], [853, 1109, 'Female'],
 [113, 1366, 'Male'], [263, 1366, 'Female'],
 [707, 1369, 'Male'], [855, 1369, 'Female'],
 [113, 1656, 'Male'], [294, 1656, 'Female'],
 [707, 1723, 'Male'], [854, 1723, 'Female']].forEach(([x, y, t]) => addDiv('lbl', x, y, t));
addDiv('rot', 617, 1480, 'CD68');
addDiv('rot', 617, 1628, 'DAPI');
</script>
</body>
</html>
